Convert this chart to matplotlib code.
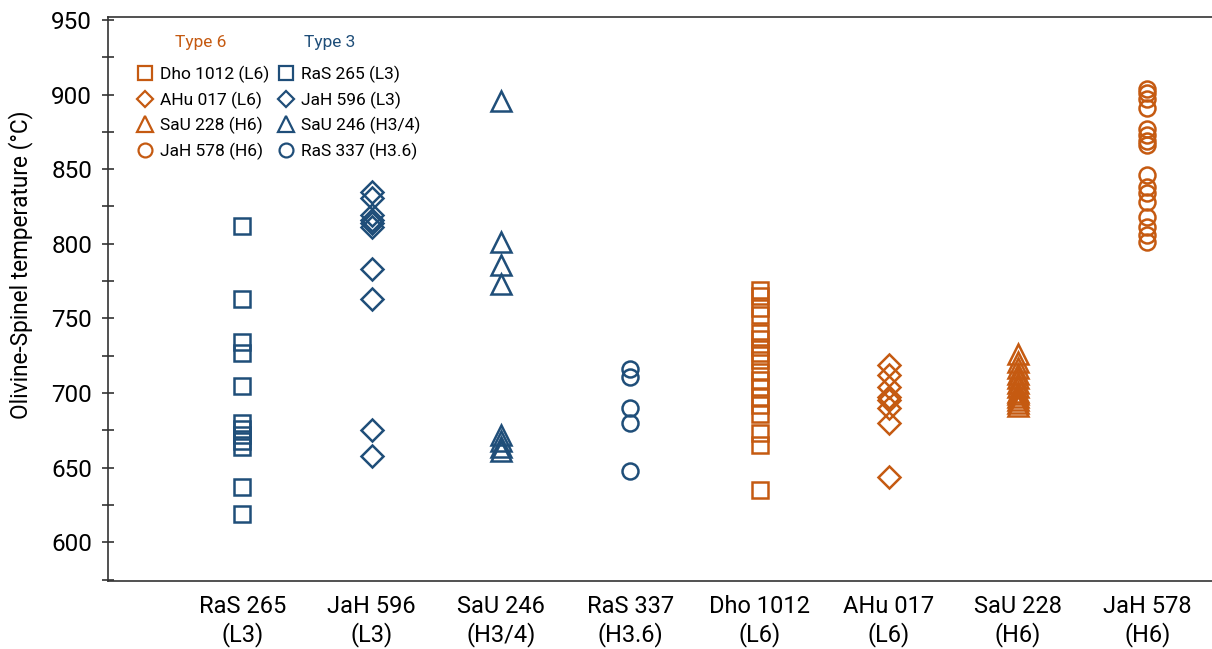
import matplotlib.pyplot as plt
from matplotlib.lines import Line2D
from matplotlib.ticker import MultipleLocator

plt.rcParams["font.family"] = ["Roboto", "DejaVu Sans"]

ORANGE = "#C55A11"
BLUE = "#1F4E79"

# meteorite labels along the x axis, in drawing order
samples = ["RaS 265", "JaH 596", "SaU 246", "RaS 337",
           "Dho 1012", "AHu 017", "SaU 228", "JaH 578"]
classes = ["L3", "L3", "H3/4", "H3.6", "L6", "L6", "H6", "H6"]

# olivine-spinel temperatures (deg C)
ras265 = [812, 763, 734, 727, 705, 680, 676, 672, 668, 664, 637, 619]
jah596 = [835, 831, 819, 816, 814, 811, 783, 763, 675, 658]
sau246 = [896, 801, 786, 773, 672, 668, 664, 661]
ras337 = [716, 711, 690, 680, 648]
dho1012 = [769, 765, 757, 752, 740, 736, 731, 727, 722, 714, 709, 704,
           697, 692, 686, 673, 665, 635]
ahu017 = [719, 712, 704, 697, 695, 690, 680, 644]
sau228 = [726, 721, 717, 713, 710, 707, 704, 701, 699, 697, 695, 693, 691]
jah578 = [904, 901, 897, 891, 877, 873, 869, 866, 846, 838, 834, 828,
          818, 811, 806, 801]

# marker, plot size, legend size per shape
shapes = {"s": (11, 10), "D": (11, 8.5), "^": (15, 11), "o": (11.5, 10)}

series = [
    (ras265, "s", BLUE),
    (jah596, "D", BLUE),
    (sau246, "^", BLUE),
    (ras337, "o", BLUE),
    (dho1012, "s", ORANGE),
    (ahu017, "D", ORANGE),
    (sau228, "^", ORANGE),
    (jah578, "o", ORANGE),
]

fig = plt.figure(figsize=(12.12, 6.49), dpi=100)
ax = fig.add_axes([108 / 1212, 68 / 649, 1 - 108 / 1212, 564 / 649])

handles = {}
for i, (vals, mk, col) in enumerate(series):
    ax.plot([i + 1] * len(vals), vals, linestyle="none", marker=mk,
            markersize=shapes[mk][0], markerfacecolor="none",
            markeredgecolor=col, markeredgewidth=1.8)
    handles[samples[i]] = Line2D([], [], linestyle="none", marker=mk,
                                 markersize=shapes[mk][1],
                                 markerfacecolor="none", markeredgecolor=col,
                                 markeredgewidth=1.6)

ax.set_xlim(-0.04, 8.5)
ax.set_ylim(574, 952)
ax.yaxis.set_major_locator(MultipleLocator(50))
ax.yaxis.set_minor_locator(MultipleLocator(25))
ax.set_yticks(range(600, 951, 50))
ax.set_xticks(range(1, 9))
ax.set_xticklabels([f"{s}\n({c})" for s, c in zip(samples, classes)])

for side in ["left", "bottom", "top"]:
    ax.spines[side].set_color("#333333")
    ax.spines[side].set_linewidth(1.2)
ax.spines["right"].set_visible(False)

ax.tick_params(axis="y", which="both", direction="inout", length=9,
               width=1.2, color="#333333", labelsize=17.5, pad=7)
ax.tick_params(axis="x", length=0, labelsize=17, pad=10)
ax.set_ylabel("Olivine-Spinel temperature (°C)", fontsize=16.3)
ax.yaxis.set_label_coords(-0.068, 0.56)

# legend: Type 6 column then Type 3 column
order = ["Dho 1012", "AHu 017", "SaU 228", "JaH 578",
         "RaS 265", "JaH 596", "SaU 246", "RaS 337"]
lab = dict(zip(samples, classes))
ax.legend([handles[k] for k in order], [f"{k} ({lab[k]})" for k in order],
          ncol=2, loc="upper left", frameon=False,
          bbox_to_anchor=(138 / 1212, 1 - 66 / 649),
          bbox_transform=fig.transFigure,
          borderpad=0, borderaxespad=0, fontsize=12.5,
          handlelength=0.8, handletextpad=0.45, columnspacing=0.6,
          labelspacing=0.47)

fig.text(201 / 1212, 1 - 43 / 649, "Type 6", color=ORANGE, fontsize=12.5,
         ha="center", va="center")
fig.text(330 / 1212, 1 - 43 / 649, "Type 3", color=BLUE, fontsize=12.5,
         ha="center", va="center")

fig.savefig("out.png", dpi=100)
